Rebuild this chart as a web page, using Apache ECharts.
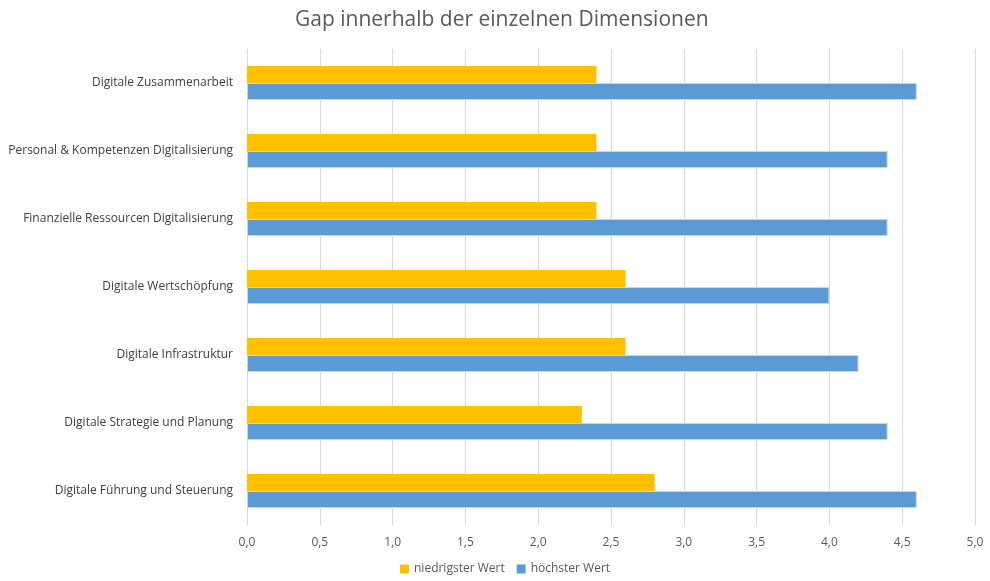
<!DOCTYPE html>
<html>
<head>
<meta charset="utf-8">
<script src="https://cdn.jsdelivr.net/npm/echarts@6/dist/echarts.min.js"></script>
<style>
  html, body { margin: 0; padding: 0; background: #fff; }
  #chart { width: 990px; height: 581px; }
</style>
</head>
<body>
<div id="chart"></div>
<script>
// Kategorien von unten nach oben
const categories = [
  'Digitale Führung und Steuerung',
  'Digitale Strategie und Planung',
  'Digitale Infrastruktur',
  'Digitale Wertschöpfung',
  'Finanzielle Ressourcen Digitalisierung',
  'Personal & Kompetenzen Digitalisierung',
  'Digitale Zusammenarbeit'
]
const niedrigsterWert = [2.8, 2.3, 2.6, 2.6, 2.4, 2.4, 2.4]
const hoechsterWert = [4.6, 4.4, 4.2, 4.0, 4.4, 4.4, 4.6]

const chart = echarts.init(document.getElementById('chart'))
const fontFamily = '"Open Sans", "Liberation Sans", sans-serif'

const option = {
  backgroundColor: '#fff',
  animation: false,
  title: {
    text: 'Gap innerhalb der einzelnen Dimensionen',
    left: 290,
    top: 5,
    textStyle: { color: '#595959', fontSize: 21, fontWeight: 'normal', fontFamily }
  },
  legend: {
    data: ['niedrigster Wert', 'höchster Wert'],
    bottom: 1,
    left: 395,
    icon: 'rect',
    itemWidth: 9,
    itemHeight: 9,
    itemGap: 12,
    itemStyle: { borderWidth: 0 },
    textStyle: { color: '#595959', fontSize: 12, fontFamily }
  },
  grid: { left: 247, right: 15, top: 49, bottom: 56, containLabel: false },
  xAxis: {
    type: 'value',
    min: 0,
    max: 5,
    interval: 0.5,
    axisLine: { show: false },
    axisTick: { show: false },
    axisLabel: {
      color: '#595959',
      fontSize: 12,
      fontFamily,
      margin: 12,
      formatter: v => v.toFixed(1).replace('.', ',')
    },
    splitLine: { lineStyle: { color: '#d9d9d9', width: 1 } }
  },
  yAxis: {
    type: 'category',
    data: categories,
    axisLine: { show: false },
    axisTick: { show: false },
    axisLabel: { color: '#404040', fontSize: 12, fontFamily, margin: 14 }
  },
  series: [
    {
      name: 'niedrigster Wert',
      type: 'bar',
      data: niedrigsterWert,
      barWidth: 17,
      barGap: '0%',
      itemStyle: { color: '#ffc000' }
    },
    {
      name: 'höchster Wert',
      type: 'bar',
      data: hoechsterWert,
      barWidth: 17,
      barGap: '0%',
      itemStyle: { color: '#5b9bd5', borderColor: '#bdd7ee', borderWidth: 1 }
    }
  ]
}
chart.setOption(option)
</script>
</body>
</html>
